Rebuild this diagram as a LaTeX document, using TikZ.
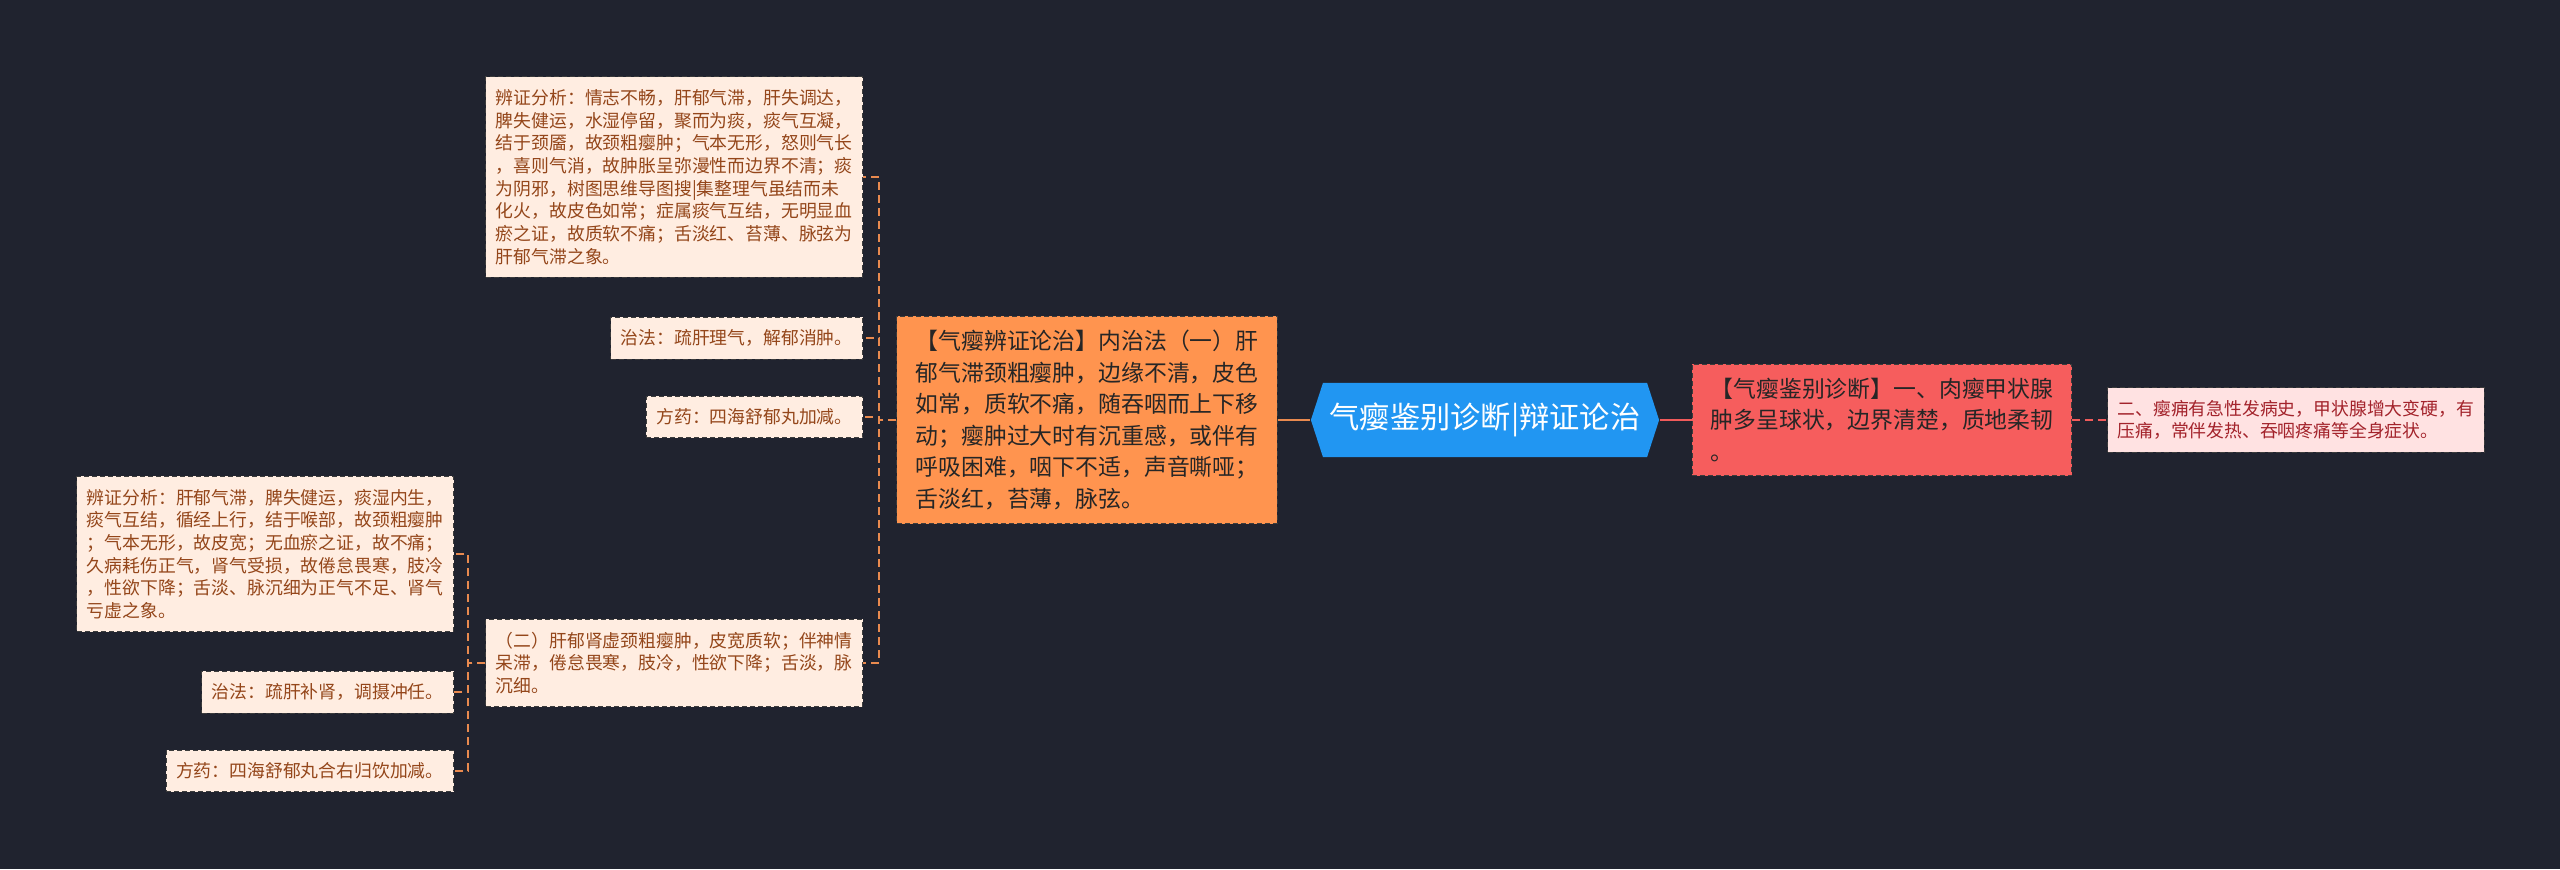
\documentclass[tikz,border=0pt]{standalone}
\usepackage{fontspec}
\setmainfont{Noto Sans CJK SC}
\usetikzlibrary{shapes.symbols}

\definecolor{bgcol}{HTML}{20232F}
\definecolor{rootblue}{HTML}{2196F2}
\definecolor{branchorange}{HTML}{FF944F}
\definecolor{branchred}{HTML}{F65D5D}
\definecolor{leaffill}{HTML}{FFEDE1}
\definecolor{leaftext}{HTML}{94461A}
\definecolor{pinkfill}{HTML}{FFE2E2}
\definecolor{pinktext}{HTML}{A3232B}
\definecolor{linkorange}{HTML}{E98A4F}
\definecolor{linkred}{HTML}{F05B5B}
\definecolor{boxline}{HTML}{3C3C3C}

\newcommand{\rootfont}{\fontsize{8.6pt}{10pt}\selectfont}
\newcommand{\branchfont}{\fontsize{6.5pt}{8.95pt}\selectfont}
\newcommand{\leaffont}{\fontsize{5.07pt}{6.46pt}\selectfont}

\begin{document}
\begin{tikzpicture}[
        x=0.01cm, y=-0.01cm,
        rootbox/.style={shape=signal, signal to=east and west, signal pointer angle=144,
            fill=rootblue, text=white, font=\rootfont, minimum height=0.74cm, minimum width=3.48cm, inner xsep=0.05cm},
        branchbox/.style={draw=boxline, dash pattern=on 0.05cm off 0.03cm, line width=0.01cm,
            font=\branchfont, text=black!85, align=left, inner xsep=0.19cm, inner ysep=0.14cm},
        leaf/.style={draw=boxline, dash pattern=on 0.05cm off 0.03cm, line width=0.01cm,
            fill=leaffill, text=leaftext, font=\leaffont, align=left, inner xsep=0.1cm, inner ysep=0.125cm, anchor=east},
        leftlink/.style={draw=linkorange, line width=0.02cm, dash pattern=on 0.08cm off 0.05cm},
        rightlink/.style={draw=linkred, line width=0.02cm, dash pattern=on 0.08cm off 0.05cm},
    ]
        \fill[bgcol] (0,0) rectangle (2560,869);
        \useasboundingbox (0,0) rectangle (2560,869);

        % centre and first level
        \node[rootbox] (root) at (1485, 420) {气瘿鉴别诊断|辩证论治};
        \node[branchbox, fill=branchorange] (qi) at (1087, 420) {【气瘿辨证论治】内治法（一）肝\\郁气滞颈粗瘿肿，边缘不清，皮色\\如常，质软不痛，随吞咽而上下移\\动；瘿肿过大时有沉重感，或伴有\\呼吸困难，咽下不适，声音嘶哑；\\舌淡红，苔薄，脉弦。};
        \node[branchbox, fill=branchred, inner xsep=0.185cm] (jian) at (1882, 420) {【气瘿鉴别诊断】一、肉瘿甲状腺\\肿多呈球状，边界清楚，质地柔韧\\。};
        \node[leaf, fill=pinkfill, text=pinktext, anchor=west] (yong) at (2107, 420) {二、瘿痈有急性发病史，甲状腺增大变硬，有\\压痛，常伴发热、吞咽疼痛等全身症状。};

        % left branch
        \node[leaf] (ana1) at (863, 177) {辨证分析：情志不畅，肝郁气滞，肝失调达，\\脾失健运，水湿停留，聚而为痰，痰气互凝，\\结于颈靥，故颈粗瘿肿；气本无形，怒则气长\\，喜则气消，故肿胀呈弥漫性而边界不清；痰\\为阴邪，树图思维导图搜|集整理气虽结而未\\化火，故皮色如常；症属痰气互结，无明显血\\瘀之证，故质软不痛；舌淡红、苔薄、脉弦为\\肝郁气滞之象。};
        \node[leaf] (zhi1) at (863, 338) {治法：疏肝理气，解郁消肿。};
        \node[leaf] (fang1) at (863, 417) {方药：四海舒郁丸加减。};
        \node[leaf] (er) at (863, 663) {（二）肝郁肾虚颈粗瘿肿，皮宽质软；伴神情\\呆滞，倦怠畏寒，肢冷，性欲下降；舌淡，脉\\沉细。};
        \node[leaf] (ana2) at (454, 554) {辨证分析：肝郁气滞，脾失健运，痰湿内生，\\痰气互结，循经上行，结于喉部，故颈粗瘿肿\\；气本无形，故皮宽；无血瘀之证，故不痛；\\久病耗伤正气，肾气受损，故倦怠畏寒，肢冷\\，性欲下降；舌淡、脉沉细为正气不足、肾气\\亏虚之象。};
        \node[leaf] (zhi2) at (454, 692) {治法：疏肝补肾，调摄冲任。};
        \node[leaf] (fang2) at (454, 771) {方药：四海舒郁丸合右归饮加减。};

        % connectors
        \draw[draw=linkorange, line width=0.02cm] (root.west) -- (qi.east);
        \draw[draw=linkred, line width=0.02cm] (root.east) -- (jian.west);
        \draw[rightlink] (jian.east) -- (yong.west);
        \foreach \kid in {ana1, zhi1, fang1, er}
            \draw[leftlink] (qi.west) -- ++(-17,0) |- (\kid.east);
        \foreach \kid in {ana2, zhi2, fang2}
            \draw[leftlink] (er.west) -- ++(-17,0) |- (\kid.east);
    \end{tikzpicture}
\end{document}
